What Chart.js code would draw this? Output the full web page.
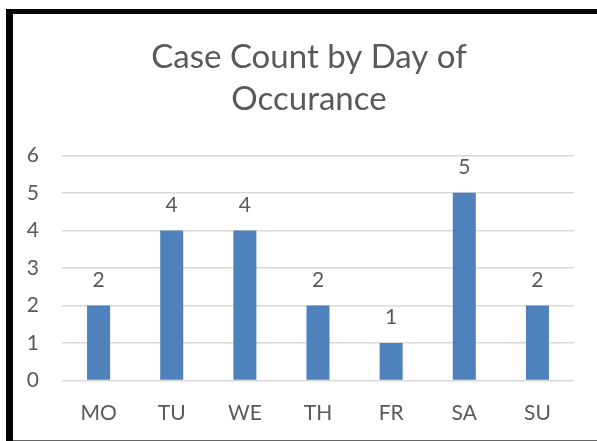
<!DOCTYPE html>
<html>
<head>
<meta charset="utf-8">
<script src="https://cdn.jsdelivr.net/npm/chart.js@4/dist/chart.umd.min.js"></script>
<style>
  html, body { margin: 0; padding: 0; background: #fff; }
  #wrap { position: relative; width: 597px; height: 441px; overflow: hidden; }
  canvas { position: absolute; left: 0; top: 0; }
  .bd { position: absolute; }
</style>
</head>
<body>
<div id="wrap">
  <canvas id="c" width="597" height="441"></canvas>
  <div class="bd" style="left:6px;top:9px;width:7px;height:432px;background:#000"></div>
  <div class="bd" style="left:6px;top:9px;width:591px;height:5px;background:#000"></div>
  <div class="bd" style="left:13px;top:440px;width:584px;height:1px;background:#666"></div>
</div>
<script>
const categories = ['MO', 'TU', 'WE', 'TH', 'FR', 'SA', 'SU'];
const caseCounts = [2, 4, 4, 2, 1, 5, 2];
const yTicks = [0, 1, 2, 3, 4, 5, 6];
const titleLines = ['Case Count by Day of', 'Occurance'];

const TEXT = '#595959';
const FONT = 'Lato';

const valueLabels = {
  id: 'valueLabels',
  afterDatasetsDraw(chart) {
    const ctx = chart.ctx;
    const meta = chart.getDatasetMeta(0);
    ctx.save();
    ctx.fillStyle = TEXT;
    ctx.font = '21px ' + FONT;
    ctx.textAlign = 'center';
    ctx.textBaseline = 'middle';
    meta.data.forEach((bar, i) => {
      ctx.fillText(String(caseCounts[i]), bar.x, bar.y - 25.5);
    });
    ctx.restore();
  }
};

// shift the title box so it is centred on the framed chart, as in the original
const titleShift = {
  id: 'titleShift',
  afterLayout(chart) {
    if (chart.titleBlock) {
      chart.titleBlock.left += 24;
      chart.titleBlock.width -= 24;
    }
  }
};

new Chart(document.getElementById('c'), {
  type: 'bar',
  data: {
    labels: categories,
    datasets: [{
      data: caseCounts,
      backgroundColor: '#4F81BD',
      borderWidth: 0,
      barPercentage: 0.315,
      categoryPercentage: 1
    }]
  },
  options: {
    responsive: false,
    animation: false,
    devicePixelRatio: 1,
    layout: { padding: { left: 20, right: 23, top: 0, bottom: 0 } },
    plugins: {
      legend: { display: false },
      tooltip: { enabled: false },
      title: {
        display: true,
        text: titleLines,
        color: TEXT,
        font: { family: FONT, size: 33, weight: 'normal', lineHeight: 1.27 },
        padding: { top: 36, bottom: 35.5 }
      }
    },
    scales: {
      x: {
        grid: { display: false },
        border: { display: false },
        ticks: { color: TEXT, font: { family: FONT, size: 21 }, padding: 12, maxRotation: 0 },
        afterFit(scale) { scale.height = 60.5; }
      },
      y: {
        min: yTicks[0],
        max: yTicks[yTicks.length - 1],
        grid: { color: '#d9d9d9', lineWidth: 1.5, drawTicks: false },
        border: { display: false },
        ticks: {
          color: TEXT,
          font: { family: FONT, size: 21 },
          padding: 23,
          stepSize: 1,
          autoSkip: false,
          callback: (v) => (yTicks.includes(v) ? String(v) : '')
        },
        afterFit(scale) { scale.width = 42; }
      }
    }
  },
  plugins: [valueLabels, titleShift]
});
</script>
</body>
</html>
